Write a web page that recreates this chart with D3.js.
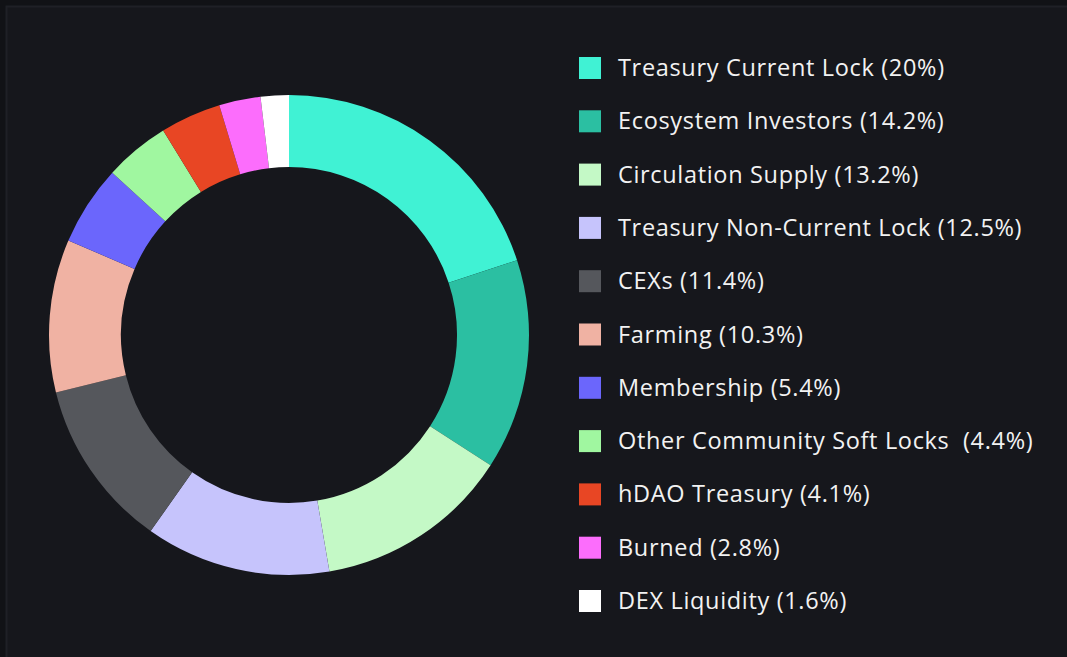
<!DOCTYPE html>
<html>
<head>
<meta charset="utf-8">
<script src="https://cdn.jsdelivr.net/npm/d3@7"></script>
<style>
  html, body { margin: 0; padding: 0; background: #111216; }
  svg { display: block; }
  text { white-space: pre; }
</style>
</head>
<body>
<div id="chart"></div>
<script>
// slices, clockwise from 12 o'clock
const labels = [
  "Treasury Current Lock (20%)",
  "Ecosystem Investors (14.2%)",
  "Circulation Supply (13.2%)",
  "Treasury Non-Current Lock (12.5%)",
  "CEXs (11.4%)",
  "Farming (10.3%)",
  "Membership (5.4%)",
  "Other Community Soft Locks  (4.4%)",
  "hDAO Treasury (4.1%)",
  "Burned (2.8%)",
  "DEX Liquidity (1.6%)"
]
// slice sizes as drawn (the last one looks a bit bigger than its label)
const values = [20, 14.2, 13.2, 12.5, 11.4, 10.3, 5.4, 4.4, 4.1, 2.8, 1.9]
const colors = [
  "#40f2d4", "#2bbfa2", "#c4f9c6", "#c6c4fc", "#55575c", "#f0b2a3",
  "#6b66fc", "#a0f7a0", "#e84624", "#fc6dfc", "#ffffff"
]

const width = 1067, height = 657

const svg = d3.select("#chart").append("svg")
    .attr("width", width)
    .attr("height", height)

// panel with a faint frame on top/left
svg.append("rect")
    .attr("x", 6).attr("y", 6)
    .attr("width", width).attr("height", height)
    .attr("fill", "#16171c")
svg.append("path")
    .attr("d", `M6.5,${height} V6.5 H${width}`)
    .attr("fill", "none")
    .attr("stroke", "#1f2026")
    .attr("stroke-width", 2)

const pie = d3.pie().sort(null).value(d => d)
const arc = d3.arc().innerRadius(168).outerRadius(240)

const g = svg.append("g").attr("transform", "translate(289,335)")
g.selectAll("path")
  .data(pie(values))
  .join("path")
    .attr("d", arc)
    .attr("fill", (d, i) => colors[i])

// legend
const y = d3.scalePoint().domain(labels).range([68, 601])

const leg = svg.append("g")
const row = leg.selectAll("g")
  .data(labels)
  .join("g")
    .attr("transform", d => `translate(579,${y(d)})`)

row.append("rect")
    .attr("y", -11)
    .attr("width", 22).attr("height", 22)
    .attr("fill", (d, i) => colors[i])

row.append("text")
    .attr("x", 39)
    .attr("y", 8)
    .attr("fill", "#f2f2f2")
    .style("font-family", "'Open Sans', sans-serif")
    .style("font-size", "23.5px")
    .style("letter-spacing", "0.67px")
    .text(d => d)
</script>
</body>
</html>
